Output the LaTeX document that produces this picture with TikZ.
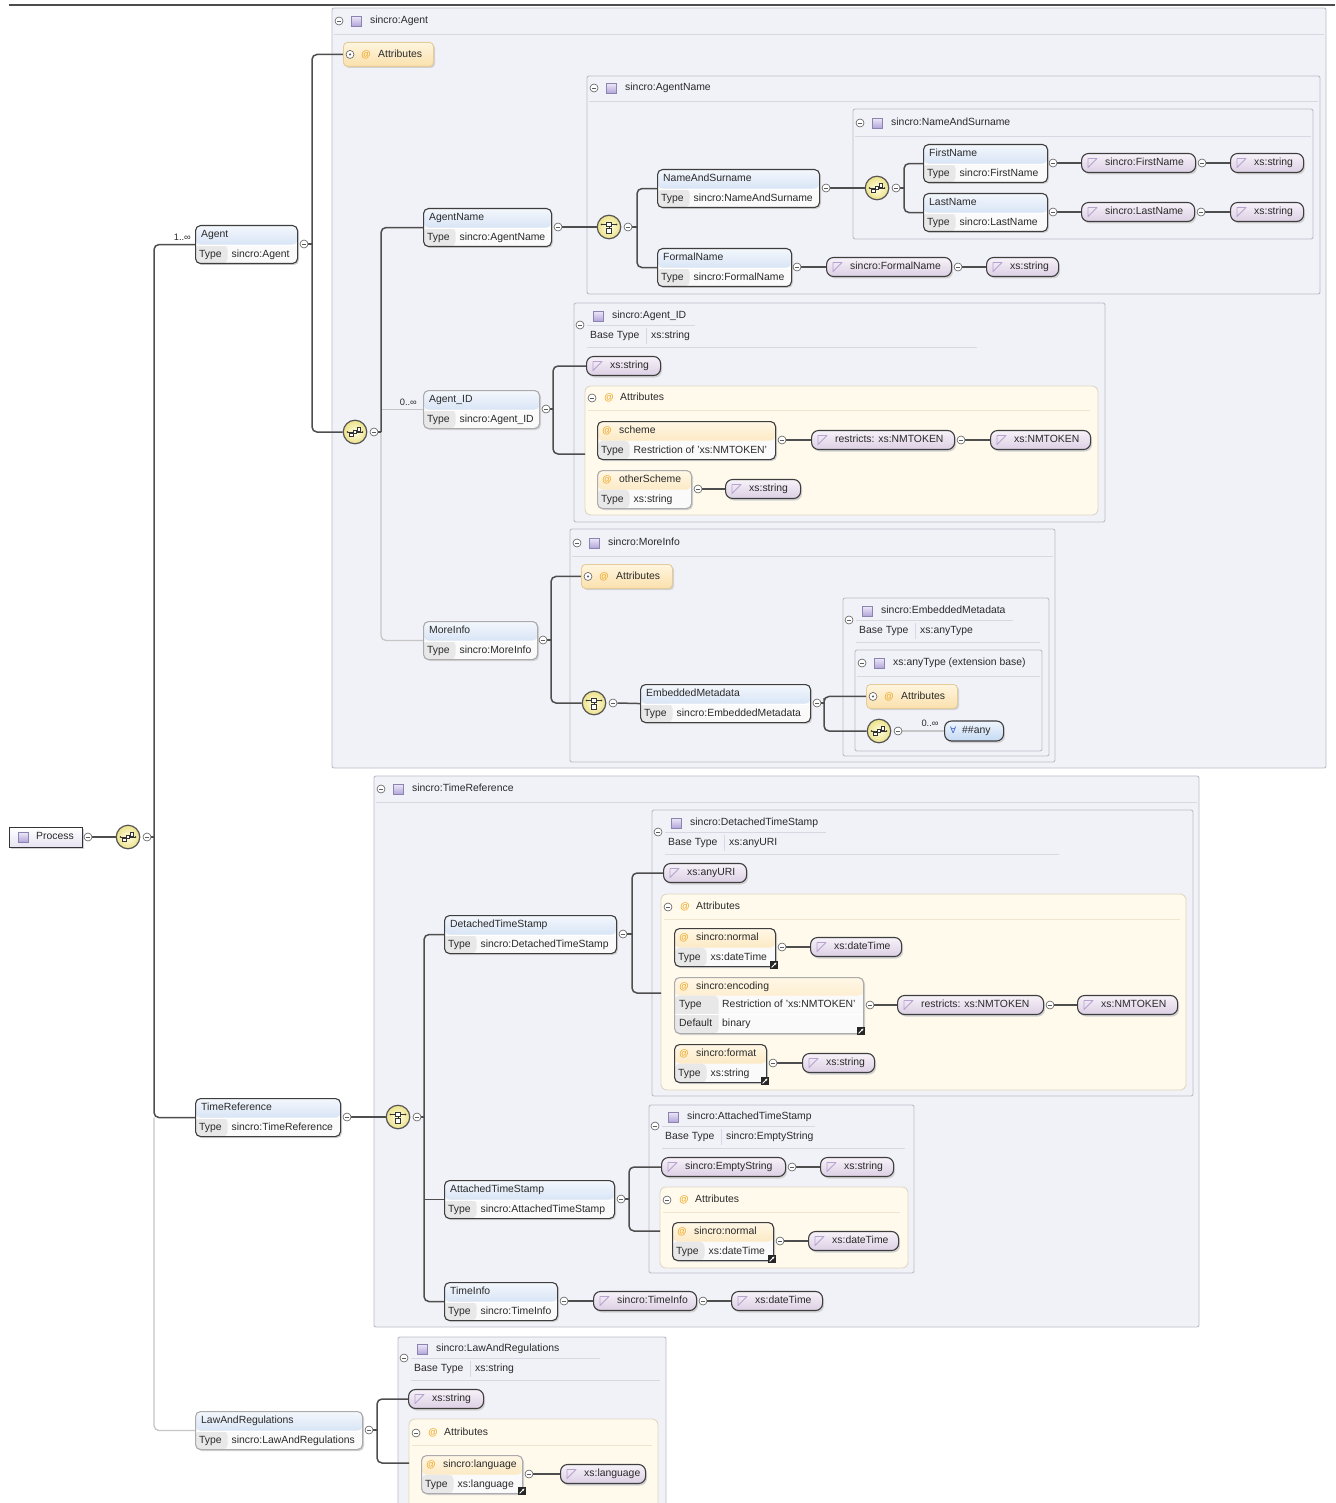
\documentclass[tikz,border=0pt]{standalone}
\usepackage{fontspec}
\setmainfont{Liberation Sans}
\newfontfamily\symfont{DejaVu Sans}
\usetikzlibrary{fit,arrows.meta}

\definecolor{txtc}{HTML}{2A2A2A}
\definecolor{cline}{HTML}{4E4E4E}
\definecolor{clight}{HTML}{C6C6C6}
\definecolor{ebord}{HTML}{3E3E3E}
\definecolor{eborl}{HTML}{ABABAB}
\definecolor{hdtop}{HTML}{F4F8FD}
\definecolor{hdbot}{HTML}{BCD1EE}
\definecolor{tcell}{HTML}{E8E8E8}
\definecolor{ebody}{HTML}{FAFAFA}
\definecolor{ahtop}{HTML}{FFF7E6}
\definecolor{ahbot}{HTML}{FADDA4}
\definecolor{pltop}{HTML}{F7F2F9}
\definecolor{plbot}{HTML}{DCCFE4}
\definecolor{picon}{HTML}{B7A3D0}
\definecolor{contf}{HTML}{F1F1F8}
\definecolor{contd}{HTML}{BDBDC8}
\definecolor{sepc}{HTML}{D8D8E2}
\definecolor{sepa}{HTML}{EFE5CE}
\definecolor{agf}{HTML}{FFFAEC}
\definecolor{agd}{HTML}{E0D7C2}
\definecolor{coltop}{HTML}{FFF5DF}
\definecolor{colbot}{HTML}{FAE0AC}
\definecolor{cold}{HTML}{E3CC9A}
\definecolor{compin}{HTML}{FFFDE2}
\definecolor{compout}{HTML}{ECE28A}
\definecolor{compd}{HTML}{555555}
\definecolor{icond}{HTML}{333333}
\definecolor{atc}{HTML}{EFA928}
\definecolor{sqt}{HTML}{EEEAF8}
\definecolor{sqb}{HTML}{B3A5DA}
\definecolor{sqd}{HTML}{8C84B0}
\definecolor{cmid}{HTML}{5C5C5C}
\definecolor{shadc}{HTML}{D2D2D2}
\definecolor{anytop}{HTML}{EEF5FD}
\definecolor{anybot}{HTML}{C5DAF3}
\definecolor{anyc}{HTML}{3A66C4}
\definecolor{proctop}{HTML}{FFFFFF}
\definecolor{procbot}{HTML}{E6E2F0}

\newcommand\ft{\fontsize{10.4pt}{12pt}\selectfont}
\newcommand\fts{\fontsize{9.3pt}{10pt}\selectfont}

\pgfdeclarelayer{boxes}
\pgfdeclarelayer{wires}
\pgfsetlayers{boxes,wires,main}

\tikzset{
  every node/.append style={font=\ft, text=txtc},
  lbl/.style={inner sep=0pt, anchor=west, text height=7.5pt, text depth=2.1pt},
  conn/.style={draw=cline, line width=1.5pt, rounded corners=5pt},
  connl/.style={draw=clight, line width=1.3pt, rounded corners=5pt},
  cont/.style={draw=contd, fill=contf, line width=0.9pt, rounded corners=2pt, inner sep=0pt},
  agrp/.style={draw=agd, fill=agf, line width=0.9pt, rounded corners=6pt, inner sep=0pt},
  sepl/.style={draw=sepc, line width=0.8pt},
  sepla/.style={draw=sepa, line width=0.8pt},
  mc/.style={circle, draw=cmid, fill=white, line width=0.6pt, minimum size=8pt, inner sep=0pt,
    path picture={\draw[cmid, line width=0.7pt]
      ([xshift=-2.2pt]path picture bounding box.center) --
      ([xshift=2.2pt]path picture bounding box.center);}},
  pc/.style={circle, draw=cmid, fill=white, line width=0.6pt, minimum size=8pt, inner sep=0pt,
    path picture={\fill[cmid] (path picture bounding box.center) circle (1.2pt);}},
  comp/.style={circle, draw=compd, line width=1.2pt, minimum size=23.5pt, inner sep=0pt,
    inner color=compin, outer color=compout},
  sqi/.style={rectangle, draw=sqd, line width=0.5pt, minimum size=10pt, inner sep=0pt,
    top color=sqt, bottom color=sqb},
  pill/.style={draw=ebord, line width=1.1pt, rounded corners=7pt, minimum height=19pt,
    inner sep=0pt, top color=pltop, bottom color=plbot},
  atsym/.style={inner sep=0pt, text=atc, font=\fontsize{9.5pt}{10pt}\selectfont\bfseries},
  card/.style={inner sep=0pt, font=\fts},
  scut/.style={rectangle, fill=black!85, minimum size=8pt, inner sep=0pt,
    path picture={\draw[white, line width=0.8pt, -{Stealth[length=2.4pt,width=2.6pt]}]
      ([shift={(-2.4pt,-2.4pt)}]path picture bounding box.center) --
      ([shift={(2.4pt,2.4pt)}]path picture bounding box.center);}},
}

% element box: name, left, top, width, element name, type, border colour
\newcommand\Elem[7]{%
  \fill[shadc, rounded corners=5pt] (#2+2,#3+2) rectangle (#2+#4+2,#3+40);
  \node[draw=#7, line width=1.1pt, rounded corners=5pt, fill=ebody, inner sep=0pt,
    minimum width=#4pt, minimum height=38pt, anchor=north west,
    path picture={
      \fill[top color=hdtop, bottom color=hdbot]
        (path picture bounding box.north west) rectangle
        ([yshift=-19pt]path picture bounding box.north east);
      \fill[tcell] ([yshift=-19pt]path picture bounding box.north west) rectangle
        ([xshift=32pt]path picture bounding box.south west);
      \draw[white, line width=0.8pt]
        ([yshift=-19.4pt]path picture bounding box.north west) --
        ([yshift=-19.4pt]path picture bounding box.north east);
    }] (#1) at (#2,#3) {};
  \node[lbl] (#1-n) at ([xshift=6pt,yshift=-9.5pt]#1.north west) {#5};
  \node[lbl] (#1-k) at ([xshift=4pt,yshift=9.5pt]#1.south west) {Type};
  \node[lbl] (#1-v) at ([xshift=36.5pt,yshift=9.5pt]#1.south west) {#6};
}

% attribute box: name, left, top, width, attribute name, type, border colour
\newcommand\Attr[7]{%
  \fill[shadc, rounded corners=5pt] (#2+2,#3+2) rectangle (#2+#4+2,#3+40);
  \node[draw=#7, line width=1.1pt, rounded corners=5pt, fill=ebody, inner sep=0pt,
    minimum width=#4pt, minimum height=38pt, anchor=north west,
    path picture={
      \fill[top color=ahtop, bottom color=ahbot]
        (path picture bounding box.north west) rectangle
        ([yshift=-19pt]path picture bounding box.north east);
      \fill[tcell] ([yshift=-19pt]path picture bounding box.north west) rectangle
        ([xshift=32pt]path picture bounding box.south west);
    }] (#1) at (#2,#3) {};
  \node[atsym] (#1-a) at ([xshift=10pt,yshift=-10pt]#1.north west) {@};
  \node[lbl] (#1-n) at ([xshift=22pt,yshift=-9.5pt]#1.north west) {#5};
  \node[lbl] (#1-k) at ([xshift=4pt,yshift=9.5pt]#1.south west) {Type};
  \node[lbl] (#1-v) at ([xshift=36.5pt,yshift=9.5pt]#1.south west) {#6};
}

% simple type: name, left, centre y, width, text
\newcommand\SType[5]{%
  \fill[shadc, rounded corners=7pt] (#2+2,#3-7.5) rectangle (#2+#4+2,#3+11.5);
  \node[pill, minimum width=#4pt, anchor=west] (#1) at (#2,#3) {};
  \draw[picon, line width=0.9pt, line join=round]
    ([shift={(7pt,-4.5pt)}]#1.west) -- ++(0pt,9pt) -- ++(9pt,0pt) -- cycle;
  \node[lbl] (#1-t) at ([xshift=24pt]#1.west) {#5};
}

% collapsed attribute list: name, left, top, width
\newcommand\AttColl[4]{%
  \fill[shadc, rounded corners=4pt] (#2+2,#3+2) rectangle (#2+#4+2,#3+26);
  \node[draw=cold, line width=0.9pt, rounded corners=4pt, top color=coltop, bottom color=colbot,
    minimum width=#4pt, minimum height=24pt, inner sep=0pt, anchor=north west] (#1) at (#2,#3) {};
  \node[pc] (#1-p) at ([xshift=7pt]#1.west) {};
  \node[atsym] (#1-a) at ([xshift=23pt]#1.west) {@};
  \node[lbl] (#1-t) at ([xshift=35pt]#1.west) {Attributes};
}

% heading of an expanded attribute list: prefix, left, centre y, separator end
\newcommand\AGHead[4]{%
  \node[mc] (#1-m) at (#2+7,#3) {};
  \node[atsym] (#1-a) at (#2+24,#3) {@};
  \node[lbl] (#1-t) at (#2+35,#3) {Attributes};
  \draw[sepla] (#2+3,#3+12) -- (#4,#3+12);
}

% heading of a type box: prefix, left, centre y, title, right
\newcommand\CHead[5]{%
  \node[mc] (#1-m) at (#2+7,#3) {};
  \node[sqi] (#1-s) at (#2+24.5,#3) {};
  \node[lbl] (#1-t) at (#2+38,#3) {#4};
  \draw[sepl] (#2+2,#3+13) -- (#5-2,#3+13);
}

% heading of a type box with a base type: prefix, left, title y, title, base, line ends
\newcommand\BHead[7]{%
  \node[mc] (#1-m) at (#2+6,#3+9) {};
  \node[sqi] (#1-s) at (#2+24,#3) {};
  \node[lbl] (#1-t) at (#2+38,#3) {#4};
  \draw[sepl] (#2+13,#3+9.5) -- (#6,#3+9.5);
  \node[lbl] (#1-b) at (#2+16,#3+20) {Base Type};
  \draw[sepl] (#2+72,#3+12) -- (#2+72,#3+28);
  \node[lbl] (#1-v) at (#2+77,#3+20) {#5};
  \draw[sepl] (#2+13,#3+31) -- (#7,#3+31);
}

\newcommand\SeqIcon[1]{%
  \draw[icond, line width=0.7pt] ([xshift=-7.5pt]#1.center) -- ([xshift=7.5pt]#1.center);
  \foreach \dx/\dy in {-3.6/-2.6, 0/0, 3.6/2.6}{%
    \draw[icond, fill=white, line width=0.6pt]
      ([shift={(\dx pt-1.7pt,\dy pt-1.7pt)}]#1.center) rectangle ++(3.4pt,3.4pt);}
  \fill[icond] ([xshift=-7.5pt]#1.center) circle (0.9pt) ([xshift=7.5pt]#1.center) circle (0.9pt);
}
\newcommand\ChoIcon[1]{%
  \draw[icond, line width=0.7pt] ([shift={(-7.5pt,2.5pt)}]#1.center) -- ([shift={(7.5pt,2.5pt)}]#1.center);
  \draw[icond, fill=white, line width=0.7pt]
    ([shift={(-2.2pt,0.3pt)}]#1.center) rectangle ([shift={(2.2pt,4.7pt)}]#1.center);
  \draw[icond, line width=0.6pt] ([yshift=0.3pt]#1.center) -- ([yshift=-1.8pt]#1.center);
  \draw[icond, fill=white, line width=0.7pt]
    ([shift={(-2.2pt,-6.4pt)}]#1.center) rectangle ([shift={(2.2pt,-1.8pt)}]#1.center);
  \fill[icond] ([shift={(-7.5pt,2.5pt)}]#1.center) circle (0.9pt) ([shift={(7.5pt,2.5pt)}]#1.center) circle (0.9pt);
}
\newcommand\Seq[3]{\node[comp] (#1) at (#2,#3) {}; \SeqIcon{#1}}
\newcommand\Cho[3]{\node[comp] (#1) at (#2,#3) {}; \ChoIcon{#1}}

\begin{document}
\begin{tikzpicture}[x=1pt,y=-1pt]
\useasboundingbox (0,0) rectangle (1335,1503);

% ---------- type boxes and attribute lists ----------
\begin{pgfonlayer}{boxes}
  \fill[white] (0,0) rectangle (1335,1503);
  \node[cont, fit={(332,8) (1326,768)}] (cAgent) {};
  \node[cont, fit={(587,76) (1320,294)}] (cAgentName) {};
  \node[cont, fit={(853,109) (1313,239)}] (cNAS) {};
  \node[cont, fit={(574,303) (1105,522)}] (cAgentID) {};
  \node[cont, fit={(570,529) (1055,762)}] (cMoreInfo) {};
  \node[cont, fit={(843,598) (1049,756)}] (cEmb) {};
  \node[cont, fit={(855,650) (1042,751)}] (cAny) {};
  \node[cont, fit={(374,776) (1199,1327)}] (cTimeRef) {};
  \node[cont, fit={(652,810) (1193,1096)}] (cDet) {};
  \node[cont, fit={(649,1105) (914,1273)}] (cAtt) {};
  \node[cont, fit={(398,1337) (666,1520)}] (cLaw) {};
  \node[agrp, fit={(585,386) (1098,515)}] (gID) {};
  \node[agrp, fit={(661,894) (1186,1090)}] (gDet) {};
  \node[agrp, fit={(660,1187) (908,1268)}] (gAtt) {};
  \node[agrp, fit={(409,1419) (658,1520)}] (gLaw) {};
\end{pgfonlayer}

\draw[black!70, line width=1.2pt] (9,5) -- (1335,5);

\CHead{hAgent}{332}{21}{sincro:Agent}{1326}
\CHead{hAgentName}{587}{88}{sincro:AgentName}{1320}
\CHead{hNAS}{853}{123}{sincro:NameAndSurname}{1313}
\CHead{hMore}{570}{543}{sincro:MoreInfo}{1055}
\CHead{hAny}{855}{663}{xs:anyType (extension base)}{1042}
\CHead{hTime}{374}{789}{sincro:TimeReference}{1199}
\BHead{hID}{574}{316}{sincro:Agent\_ID}{xs:string}{695}{977}
\BHead{hEmb}{843}{611}{sincro:EmbeddedMetadata}{xs:anyType}{1013}{1040}
\BHead{hDet}{652}{823}{sincro:DetachedTimeStamp}{xs:anyURI}{826}{1059}
\BHead{hAtt}{649}{1117}{sincro:AttachedTimeStamp}{sincro:EmptyString}{815}{905}
\BHead{hLaw}{398}{1349}{sincro:LawAndRegulations}{xs:string}{600}{660}

\AGHead{gIDh}{585}{398}{1090}
\AGHead{gDeth}{661}{907}{1180}
\AGHead{gAtth}{660}{1200}{900}
\AGHead{gLawh}{409}{1433}{652}

\AttColl{attA}{343}{42}{90}
\AttColl{attM}{581}{564}{91}
\AttColl{attE}{866}{684}{91}

% ---------- root element ----------
\fill[shadc] (11,829) rectangle (84,849);
\node[draw=black!80, line width=1.4pt, top color=proctop, bottom color=procbot,
  minimum width=73pt, minimum height=20pt, inner sep=0pt, anchor=north west] (proc) at (9,827) {};
\node[sqi] (proc-s) at (23,837) {};
\node[lbl] (proc-t) at (36,837) {Process};
\node[mc] (proc-m) at (88,837) {};

% ---------- compositors ----------
\Seq{seq0}{128}{837}   \node[mc] (seq0-m) at (147,837) {};
\Seq{seq1}{355}{432}   \node[mc] (seq1-m) at (374,432) {};
\Cho{cho1}{609}{227}   \node[mc] (cho1-m) at (628,227) {};
\Seq{seq2}{877}{188}   \node[mc] (seq2-m) at (896,188) {};
\Cho{cho2}{594}{703}   \node[mc] (cho2-m) at (613,703) {};
\Seq{seq3}{879}{731}   \node[mc] (seq3-m) at (898,731) {};
\Cho{cho3}{398}{1117}  \node[mc] (cho3-m) at (417,1117) {};

% ---------- elements ----------
\Elem{agent}{195}{225}{102}{Agent}{sincro:Agent}{ebord}
\node[mc] (agent-m) at (304,244) {};
\node[card, anchor=east] (agent-c) at (191,237) {1..∞};
\Elem{agentname}{423}{208}{128}{AgentName}{sincro:AgentName}{ebord}
\node[mc] (agentname-m) at (558,227) {};
\Elem{nas}{657}{169}{162}{NameAndSurname}{sincro:NameAndSurname}{ebord}
\node[mc] (nas-m) at (826,188) {};
\Elem{first}{923}{144}{124}{FirstName}{sincro:FirstName}{ebord}
\node[mc] (first-m) at (1053,163) {};
\Elem{last}{923}{193}{124}{LastName}{sincro:LastName}{ebord}
\node[mc] (last-m) at (1053,212) {};
\Elem{formal}{657}{248}{134}{FormalName}{sincro:FormalName}{ebord}
\node[mc] (formal-m) at (797,267) {};
\Elem{agentid}{423}{390}{116}{Agent\_ID}{sincro:Agent\_ID}{eborl}
\node[mc] (agentid-m) at (546,409) {};
\node[card, anchor=east] (agentid-c) at (417,402) {0..∞};
\Elem{moreinfo}{423}{621}{114}{MoreInfo}{sincro:MoreInfo}{eborl}
\node[mc] (moreinfo-m) at (543,640) {};
\Elem{emb}{640}{684}{170}{EmbeddedMetadata}{sincro:EmbeddedMetadata}{ebord}
\node[mc] (emb-m) at (817,703) {};
\Elem{timeref}{195}{1098}{145}{TimeReference}{sincro:TimeReference}{ebord}
\node[mc] (timeref-m) at (347,1117) {};
\Elem{det}{444}{915}{172}{DetachedTimeStamp}{sincro:DetachedTimeStamp}{ebord}
\node[mc] (det-m) at (623,934) {};
\Elem{att}{444}{1180}{170}{AttachedTimeStamp}{sincro:AttachedTimeStamp}{ebord}
\node[mc] (att-m) at (621,1199) {};
\Elem{tinfo}{444}{1282}{113}{TimeInfo}{sincro:TimeInfo}{ebord}
\node[mc] (tinfo-m) at (564,1301) {};
\Elem{law}{195}{1411}{167}{LawAndRegulations}{sincro:LawAndRegulations}{eborl}
\node[mc] (law-m) at (369,1430) {};

% wildcard
\fill[shadc, rounded corners=7pt] (946,723) rectangle (1005,743);
\node[draw=ebord, line width=1.1pt, rounded corners=7pt, top color=anytop, bottom color=anybot,
  minimum width=59pt, minimum height=20pt, inner sep=0pt, anchor=west] (any) at (944,731) {};
\node[lbl, text=anyc, font=\symfont\fontsize{9pt}{10pt}\selectfont] (any-s) at ([xshift=6pt]any.west) {∀};
\node[lbl] (any-t) at ([xshift=18pt]any.west) {\#\#any};
\node[card] (any-c) at (930,723) {0..∞};

% ---------- attributes ----------
\Attr{scheme}{597}{421}{178}{scheme}{Restriction of 'xs:NMTOKEN'}{ebord}
\node[mc] (scheme-m) at (782,440) {};
\Attr{other}{597}{470}{94}{otherScheme}{xs:string}{eborl}
\node[mc] (other-m) at (698,489) {};
\Attr{norm1}{674}{928}{101}{sincro:normal}{xs:dateTime}{ebord}
\node[mc] (norm1-m) at (782,947) {};
\node[scut] (norm1-sc) at (774,965) {};

\fill[shadc, rounded corners=5pt] (676,979) rectangle (865,1035);
\node[draw=eborl, line width=1.1pt, rounded corners=5pt, fill=ebody, inner sep=0pt,
  minimum width=189pt, minimum height=56pt, anchor=north west,
  path picture={
    \fill[top color=ahtop, bottom color=ahbot] (path picture bounding box.north west)
      rectangle ([yshift=-18pt]path picture bounding box.north east);
    \fill[tcell] ([yshift=-18pt]path picture bounding box.north west)
      rectangle ([xshift=44pt]path picture bounding box.south west);
    \draw[white, line width=0.8pt] ([yshift=-37pt]path picture bounding box.north west)
      -- ([yshift=-37pt]path picture bounding box.north east);
  }] (enc) at (674,977) {};
\node[atsym] (enc-a) at ([xshift=10pt,yshift=-9.5pt]enc.north west) {@};
\node[lbl] (enc-n) at ([xshift=22pt,yshift=-9.5pt]enc.north west) {sincro:encoding};
\node[lbl] (enc-k) at ([xshift=5pt,yshift=-28pt]enc.north west) {Type};
\node[lbl] (enc-v) at ([xshift=48pt,yshift=-28pt]enc.north west) {Restriction of 'xs:NMTOKEN'};
\node[lbl] (enc-dk) at ([xshift=5pt,yshift=-46.5pt]enc.north west) {Default};
\node[lbl] (enc-dv) at ([xshift=48pt,yshift=-46.5pt]enc.north west) {binary};
\node[mc] (enc-m) at (870,1005) {};
\node[scut] (enc-sc) at (861,1031) {};

\Attr{fmt}{674}{1044}{92}{sincro:format}{xs:string}{ebord}
\node[mc] (fmt-m) at (773,1063) {};
\node[scut] (fmt-sc) at (765,1081) {};
\Attr{norm2}{672}{1222}{101}{sincro:normal}{xs:dateTime}{ebord}
\node[mc] (norm2-m) at (780,1241) {};
\node[scut] (norm2-sc) at (772,1259) {};
\Attr{lang}{421}{1455}{101}{sincro:language}{xs:language}{eborl}
\node[mc] (lang-m) at (529,1474) {};
\node[scut] (lang-sc) at (522,1491) {};

% ---------- simple types ----------
\SType{firstT}{1081}{163}{114}{sincro:FirstName}
\node[mc] (firstT-m) at (1202,163) {};
\SType{firstS}{1230}{163}{73}{xs:string}
\SType{lastT}{1081}{212}{113}{sincro:LastName}
\node[mc] (lastT-m) at (1201,212) {};
\SType{lastS}{1230}{212}{73}{xs:string}
\SType{formalT}{826}{267}{125}{sincro:FormalName}
\node[mc] (formalT-m) at (958,267) {};
\SType{formalS}{986}{267}{72}{xs:string}
\SType{idS}{586}{366}{74}{xs:string}
\SType{schR}{811}{440}{143}{restricts: xs:NMTOKEN}
\node[mc] (schR-m) at (961,440) {};
\SType{schN}{990}{440}{100}{xs:NMTOKEN}
\SType{othS}{725}{489}{75}{xs:string}
\SType{uri}{663}{873}{83}{xs:anyURI}
\SType{n1D}{810}{947}{91}{xs:dateTime}
\SType{encR}{897}{1005}{146}{restricts: xs:NMTOKEN}
\node[mc] (encR-m) at (1050,1005) {};
\SType{encN}{1077}{1005}{100}{xs:NMTOKEN}
\SType{fmtS}{802}{1063}{72}{xs:string}
\SType{emp}{661}{1167}{124}{sincro:EmptyString}
\node[mc] (emp-m) at (792,1167) {};
\SType{empS}{820}{1167}{73}{xs:string}
\SType{n2D}{808}{1241}{90}{xs:dateTime}
\SType{tiT}{593}{1301}{103}{sincro:TimeInfo}
\node[mc] (tiT-m) at (703,1301) {};
\SType{tiD}{731}{1301}{91}{xs:dateTime}
\SType{lawS}{408}{1399}{75}{xs:string}
\SType{langD}{560}{1474}{85}{xs:language}

% ---------- connectors ----------
\begin{pgfonlayer}{wires}
  % Process
  \draw[conn] (proc-m.east) -- (seq0.west);
  \coordinate (j0) at (154,837);
  \draw[connl] (timeref.west -| j0) |- (law.west);
  \draw[conn] (agent.west) -| (j0) |- (timeref.west);
  \draw[conn] (seq0-m.east) -- (j0);
  % Agent
  \coordinate (j1) at (312,244);
  \draw[conn] (attA.west) -| (j1) |- (seq1.west);
  \draw[conn] (agent-m.east) -- (j1);
  \coordinate (j2) at (381,432);
  \draw[connl] (j2) |- (moreinfo.west);
  \draw[connl] (agentid.west -| j2) -- (agentid.west);
  \draw[conn] (agentname.west) -| (j2);
  \draw[conn] (seq1-m.east) -- (j2);
  % AgentName
  \draw[conn] (agentname-m.east) -- (cho1.west);
  \coordinate (j3) at (637,227);
  \draw[conn] (nas.west) -| (j3) |- (formal.west);
  \draw[conn] (cho1-m.east) -- (j3);
  \draw[conn] (nas-m.east) -- (seq2.west);
  \coordinate (j4) at (904,188);
  \draw[conn] (first.west) -| (j4) |- (last.west);
  \draw[conn] (seq2-m.east) -- (j4);
  \draw[conn] (first-m.east) -- (firstT.west);
  \draw[conn] (firstT-m.east) -- (firstS.west);
  \draw[conn] (last-m.east) -- (lastT.west);
  \draw[conn] (lastT-m.east) -- (lastS.west);
  \draw[conn] (formal-m.east) -- (formalT.west);
  \draw[conn] (formalT-m.east) -- (formalS.west);
  % Agent_ID
  \coordinate (j5) at (553,409);
  \coordinate (gID-in) at (585,454);
  \draw[conn] (idS.west) -| (j5) |- (gID-in);
  \draw[conn] (agentid-m.east) -- (j5);
  \draw[conn] (scheme-m.east) -- (schR.west);
  \draw[conn] (schR-m.east) -- (schN.west);
  \draw[conn] (other-m.east) -- (othS.west);
  % MoreInfo
  \coordinate (j6) at (551,640);
  \draw[conn] (attM.west) -| (j6) |- (cho2.west);
  \draw[conn] (moreinfo-m.east) -- (j6);
  \draw[conn] (cho2-m.east) -- (emb.west);
  \coordinate (j7) at (824,703);
  \draw[conn] (attE.west) -| (j7) |- (seq3.west);
  \draw[conn] (emb-m.east) -- (j7);
  \draw[connl] (seq3-m.east) -- (any.west);
  % TimeReference
  \draw[conn] (timeref-m.east) -- (cho3.west);
  \coordinate (j8) at (424,1117);
  \draw[conn] (det.west) -| (j8) |- (tinfo.west);
  \draw[conn] (cho3-m.east) -- (j8);
  \draw[conn] (att.west -| j8) -- (att.west);
  \coordinate (j9) at (632,934);
  \coordinate (gDet-in) at (661,993);
  \draw[conn] (uri.west) -| (j9) |- (gDet-in);
  \draw[conn] (det-m.east) -- (j9);
  \draw[conn] (norm1-m.east) -- (n1D.west);
  \draw[conn] (enc-m.east) -- (encR.west);
  \draw[conn] (encR-m.east) -- (encN.west);
  \draw[conn] (fmt-m.east) -- (fmtS.west);
  \coordinate (j10) at (629,1199);
  \coordinate (gAtt-in) at (660,1231);
  \draw[conn] (emp.west) -| (j10) |- (gAtt-in);
  \draw[conn] (att-m.east) -- (j10);
  \draw[conn] (emp-m.east) -- (empS.west);
  \draw[conn] (norm2-m.east) -- (n2D.west);
  \draw[conn] (tinfo-m.east) -- (tiT.west);
  \draw[conn] (tiT-m.east) -- (tiD.west);
  % LawAndRegulations
  \coordinate (j11) at (377,1430);
  \coordinate (gLaw-in) at (409,1463);
  \draw[conn] (lawS.west) -| (j11) |- (gLaw-in);
  \draw[conn] (law-m.east) -- (j11);
  \draw[conn] (lang-m.east) -- (langD.west);
\end{pgfonlayer}
\end{tikzpicture}
\end{document}
